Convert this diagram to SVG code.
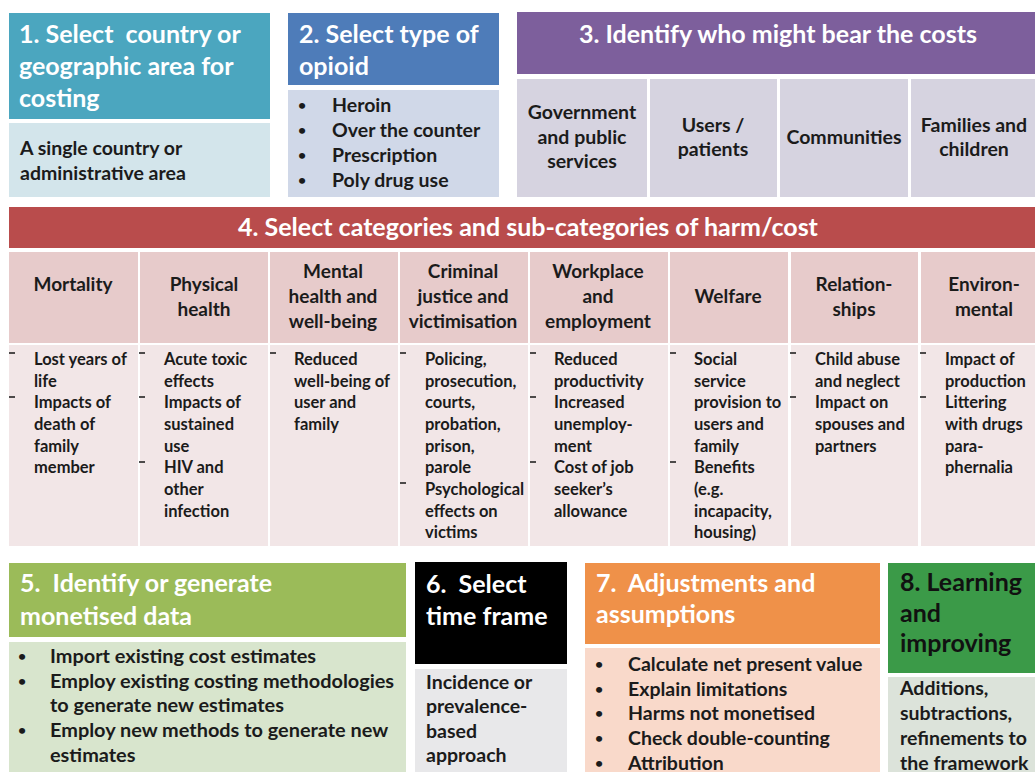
<svg xmlns="http://www.w3.org/2000/svg" width="1035" height="772" viewBox="0 0 1035 772">
<style>
text{font-family:Lato,"Liberation Sans",sans-serif;font-weight:bold;fill:#1b1b1b}
.t{font-size:25px;fill:#fff}
.tb{font-size:25px;fill:#111}
.b{font-size:19.5px}
.b5{font-size:19.9px}
.h{font-size:19px}
.c{font-size:16.5px}
.bu{font-size:14px}
.m{text-anchor:middle}
.d{stroke:#222;stroke-width:1.6}
</style>
<rect width="1035" height="772" fill="#fff"/>

<g id="step1">
<rect x="9" y="13" width="261" height="106" fill="#4BA6BF"/>
<rect x="9" y="123" width="261" height="74" fill="#D3E5EB"/>
<text class="t" xml:space="preserve"><tspan x="19" y="43">1. Select  country or</tspan><tspan x="19" y="75">geographic area for</tspan><tspan x="19" y="107">costing</tspan></text>
<text class="b"><tspan x="20" y="155">A single country or</tspan><tspan x="20" y="180">administrative area</tspan></text>
</g>

<g id="step2">
<rect x="288" y="13" width="211" height="72" fill="#4E7CB9"/>
<rect x="288" y="90" width="211" height="107" fill="#D0D8E8"/>
<text class="t"><tspan x="299" y="43">2. Select type of</tspan><tspan x="299" y="75">opioid</tspan></text>
<text class="bu"><tspan x="298" y="110">•</tspan><tspan x="298" y="135">•</tspan><tspan x="298" y="160">•</tspan><tspan x="298" y="185">•</tspan></text>
<text class="b"><tspan x="332" y="112">Heroin</tspan><tspan x="332" y="137">Over the counter</tspan><tspan x="332" y="162">Prescription</tspan><tspan x="332" y="187">Poly drug use</tspan></text>
</g>

<g id="step3">
<rect x="517" y="12" width="518" height="62" fill="#7D5F9C"/>
<text class="t m" x="778" y="43">3. Identify who might bear the costs</text>
<rect x="517" y="79" width="130" height="118" fill="#D6D3E0"/>
<rect x="650" y="79" width="127" height="118" fill="#D6D3E0"/>
<rect x="780" y="79" width="128" height="118" fill="#D6D3E0"/>
<rect x="911" y="79" width="124" height="118" fill="#D6D3E0"/>
<text class="b m"><tspan x="582" y="119">Government</tspan><tspan x="582" y="144">and public</tspan><tspan x="582" y="168">services</tspan></text>
<text class="b m"><tspan x="713" y="132">Users /</tspan><tspan x="713" y="156">patients</tspan></text>
<text class="b m" x="844" y="144">Communities</text>
<text class="b m"><tspan x="974" y="132">Families and</tspan><tspan x="974" y="156">children</tspan></text>
</g>

<g id="step4">
<rect x="9" y="207" width="1026" height="41" fill="#B94C4C"/>
<text class="t m" x="528" y="236">4. Select categories and sub-categories of harm/cost</text>
<g fill="#E7CBCB">
<rect x="9" y="252" width="129" height="91"/>
<rect x="140" y="252" width="128" height="91"/>
<rect x="270" y="252" width="128" height="91"/>
<rect x="400" y="252" width="128" height="91"/>
<rect x="530" y="252" width="138" height="91"/>
<rect x="670" y="252" width="118" height="91"/>
<rect x="791" y="252" width="127" height="91"/>
<rect x="921" y="252" width="114" height="91"/>
</g>
<g fill="#F2E6E7">
<rect x="9" y="345" width="129" height="201"/>
<rect x="140" y="345" width="128" height="201"/>
<rect x="270" y="345" width="128" height="201"/>
<rect x="400" y="345" width="128" height="201"/>
<rect x="530" y="345" width="138" height="201"/>
<rect x="670" y="345" width="118" height="201"/>
<rect x="791" y="345" width="127" height="201"/>
<rect x="921" y="345" width="114" height="201"/>
</g>
<text class="h m" x="73" y="291">Mortality</text>
<text class="h m"><tspan x="204" y="291">Physical</tspan><tspan x="204" y="316">health</tspan></text>
<text class="h m"><tspan x="333" y="278">Mental</tspan><tspan x="333" y="303">health and</tspan><tspan x="333" y="328">well-being</tspan></text>
<text class="h m"><tspan x="463" y="278">Criminal</tspan><tspan x="463" y="303">justice and</tspan><tspan x="463" y="328">victimisation</tspan></text>
<text class="h m"><tspan x="598" y="278">Workplace</tspan><tspan x="598" y="303">and</tspan><tspan x="598" y="328">employment</tspan></text>
<text class="h m" x="728" y="303">Welfare</text>
<text class="h m"><tspan x="854" y="291">Relation-</tspan><tspan x="854" y="316">ships</tspan></text>
<text class="h m"><tspan x="984" y="291">Environ-</tspan><tspan x="984" y="316">mental</tspan></text>

<g class="d">
<line x1="9" y1="353" x2="15" y2="353"/><line x1="9" y1="397" x2="15" y2="397"/>
<line x1="139" y1="353" x2="145" y2="353"/><line x1="139" y1="397" x2="145" y2="397"/><line x1="139" y1="462" x2="145" y2="462"/>
<line x1="270" y1="353" x2="276" y2="353"/>
<line x1="400" y1="353" x2="406" y2="353"/><line x1="400" y1="483" x2="406" y2="483"/>
<line x1="530" y1="353" x2="536" y2="353"/><line x1="530" y1="397" x2="536" y2="397"/><line x1="530" y1="462" x2="536" y2="462"/>
<line x1="670" y1="353" x2="676" y2="353"/><line x1="670" y1="462" x2="676" y2="462"/>
<line x1="790" y1="353" x2="796" y2="353"/><line x1="790" y1="397" x2="796" y2="397"/>
<line x1="920" y1="353" x2="926" y2="353"/><line x1="920" y1="397" x2="926" y2="397"/>
</g>
<text class="c"><tspan x="34" y="365">Lost years of</tspan><tspan x="34" y="386.7">life</tspan><tspan x="34" y="408.3">Impacts of</tspan><tspan x="34" y="430">death of</tspan><tspan x="34" y="451.7">family</tspan><tspan x="34" y="473.3">member</tspan></text>
<text class="c"><tspan x="164" y="365">Acute toxic</tspan><tspan x="164" y="386.7">effects</tspan><tspan x="164" y="408.3">Impacts of</tspan><tspan x="164" y="430">sustained</tspan><tspan x="164" y="451.7">use</tspan><tspan x="164" y="473.3">HIV and</tspan><tspan x="164" y="495">other</tspan><tspan x="164" y="516.7">infection</tspan></text>
<text class="c"><tspan x="294" y="365">Reduced</tspan><tspan x="294" y="386.7">well-being of</tspan><tspan x="294" y="408.3">user and</tspan><tspan x="294" y="430">family</tspan></text>
<text class="c"><tspan x="425" y="365">Policing,</tspan><tspan x="425" y="386.7">prosecution,</tspan><tspan x="425" y="408.3">courts,</tspan><tspan x="425" y="430">probation,</tspan><tspan x="425" y="451.7">prison,</tspan><tspan x="425" y="473.3">parole</tspan><tspan x="425" y="495">Psychological</tspan><tspan x="425" y="516.7">effects on</tspan><tspan x="425" y="538.3">victims</tspan></text>
<text class="c"><tspan x="554" y="365">Reduced</tspan><tspan x="554" y="386.7">productivity</tspan><tspan x="554" y="408.3">Increased</tspan><tspan x="554" y="430">unemploy-</tspan><tspan x="554" y="451.7">ment</tspan><tspan x="554" y="473.3">Cost of job</tspan><tspan x="554" y="495">seeker’s</tspan><tspan x="554" y="516.7">allowance</tspan></text>
<text class="c"><tspan x="694" y="365">Social</tspan><tspan x="694" y="386.7">service</tspan><tspan x="694" y="408.3">provision to</tspan><tspan x="694" y="430">users and</tspan><tspan x="694" y="451.7">family</tspan><tspan x="694" y="473.3">Benefits</tspan><tspan x="694" y="495">(e.g.</tspan><tspan x="694" y="516.7">incapacity,</tspan><tspan x="694" y="538.3">housing)</tspan></text>
<text class="c"><tspan x="815" y="365">Child abuse</tspan><tspan x="815" y="386.7">and neglect</tspan><tspan x="815" y="408.3">Impact on</tspan><tspan x="815" y="430">spouses and</tspan><tspan x="815" y="451.7">partners</tspan></text>
<text class="c"><tspan x="945" y="365">Impact of</tspan><tspan x="945" y="386.7">production</tspan><tspan x="945" y="408.3">Littering</tspan><tspan x="945" y="430">with drugs</tspan><tspan x="945" y="451.7">para-</tspan><tspan x="945" y="473.3">phernalia</tspan></text>
</g>

<g id="step5">
<rect x="9" y="563" width="397" height="74" fill="#9BBB59"/>
<rect x="9" y="642" width="397" height="130" fill="#D8E5CD"/>
<text class="t" xml:space="preserve"><tspan x="20" y="592">5.  Identify or generate</tspan><tspan x="20" y="625">monetised data</tspan></text>
<text class="bu"><tspan x="18" y="661">•</tspan><tspan x="18" y="686">•</tspan><tspan x="18" y="735">•</tspan></text>
<text class="b5"><tspan x="50" y="663">Import existing cost estimates</tspan><tspan x="50" y="688">Employ existing costing methodologies</tspan><tspan x="50" y="712">to generate new estimates</tspan><tspan x="50" y="737">Employ new methods to generate new</tspan><tspan x="50" y="762">estimates</tspan></text>
</g>

<g id="step6">
<rect x="415" y="562" width="152" height="102" fill="#000"/>
<rect x="415" y="669" width="152" height="103" fill="#E8E8EA"/>
<text class="t" xml:space="preserve"><tspan x="426" y="593">6.  Select</tspan><tspan x="426" y="625">time frame</tspan></text>
<text class="b"><tspan x="426" y="689">Incidence or</tspan><tspan x="426" y="713">prevalence-</tspan><tspan x="426" y="738">based</tspan><tspan x="426" y="762">approach</tspan></text>
</g>

<g id="step7">
<rect x="585" y="563" width="295" height="81" fill="#EF9149"/>
<rect x="585" y="648" width="295" height="124" fill="#F9D9CA"/>
<text class="t" xml:space="preserve"><tspan x="596" y="592">7.  Adjustments and</tspan><tspan x="596" y="623">assumptions</tspan></text>
<text class="bu"><tspan x="595" y="669">•</tspan><tspan x="595" y="694">•</tspan><tspan x="595" y="718">•</tspan><tspan x="595" y="743">•</tspan><tspan x="595" y="768">•</tspan></text>
<text class="b"><tspan x="628" y="671">Calculate net present value</tspan><tspan x="628" y="696">Explain limitations</tspan><tspan x="628" y="720">Harms not monetised</tspan><tspan x="628" y="745">Check double-counting</tspan><tspan x="628" y="770">Attribution</tspan></text>
</g>

<g id="step8">
<rect x="888" y="563" width="147" height="110" fill="#3B9A48"/>
<rect x="888" y="677" width="147" height="95" fill="#DCE3DA"/>
<text class="tb"><tspan x="900" y="591">8. Learning</tspan><tspan x="900" y="622">and</tspan><tspan x="900" y="652">improving</tspan></text>
<text class="b"><tspan x="900" y="695">Additions,</tspan><tspan x="900" y="720">subtractions,</tspan><tspan x="900" y="745">refinements to</tspan><tspan x="900" y="770">the framework</tspan></text>
</g>
</svg>
